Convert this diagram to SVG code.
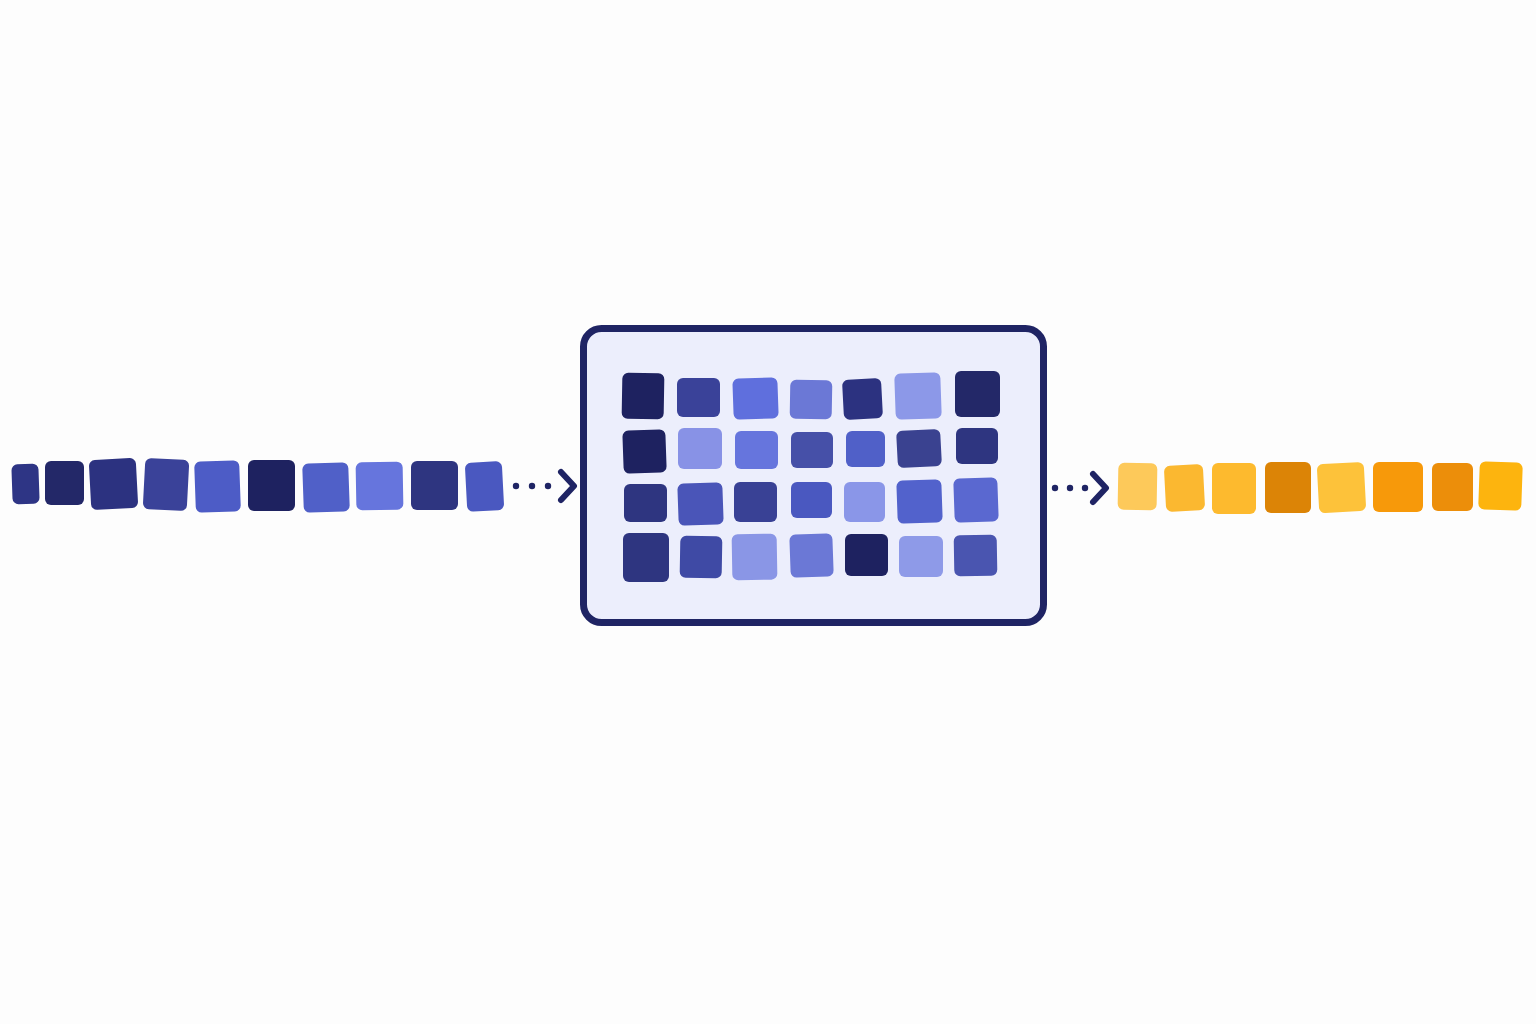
<svg xmlns="http://www.w3.org/2000/svg" width="1536" height="1024" viewBox="0 0 1536 1024">
<style>
.sq{rx:6;ry:6}
.dot{fill:#1F2464}
.chev{fill:none;stroke:#1F2464;stroke-width:6;stroke-linecap:round;stroke-linejoin:round}
.frame{fill:#ECEEFC;stroke:#1F2464;stroke-width:7}
</style>
<rect width="1536" height="1024" fill="#FDFDFD"/>
<g id="input-sequence">
<rect class="sq" x="12" y="464" width="27" height="40" fill="#2E3585" transform="rotate(-2 25 484)"/>
<rect class="sq" x="45" y="461" width="39" height="44" fill="#232868"/>
<rect class="sq" x="90" y="459" width="47" height="50" fill="#2C3280" transform="rotate(-3 113 484)"/>
<rect class="sq" x="144" y="459" width="44" height="51" fill="#3A4299" transform="rotate(3 166 485)"/>
<rect class="sq" x="195" y="461" width="45" height="51" fill="#4D5CC6" transform="rotate(-2 217 486)"/>
<rect class="sq" x="248" y="460" width="47" height="51" fill="#1E2260"/>
<rect class="sq" x="303" y="463" width="46" height="49" fill="#5060C8" transform="rotate(-2 326 487)"/>
<rect class="sq" x="356" y="462" width="47" height="48" fill="#6675DD" transform="rotate(-1 379 486)"/>
<rect class="sq" x="411" y="461" width="47" height="49" fill="#2E3580"/>
<rect class="sq" x="466" y="462" width="37" height="49" fill="#4A58C0" transform="rotate(-3 484 486)"/>
</g>
<g id="model-grid">
<rect class="frame" x="583.5" y="328.5" width="460" height="294" rx="18"/>
<rect class="sq" x="622" y="373" width="42" height="46" fill="#1E2260" transform="rotate(1 643 396)"/>
<rect class="sq" x="677" y="378" width="43" height="39" fill="#3A4299"/>
<rect class="sq" x="733" y="378" width="45" height="41" fill="#5F6FDD" transform="rotate(-2 755 398)"/>
<rect class="sq" x="790" y="380" width="42" height="39" fill="#6B78D6" transform="rotate(1 811 399)"/>
<rect class="sq" x="843" y="379" width="39" height="40" fill="#2C3280" transform="rotate(-3 862 399)"/>
<rect class="sq" x="895" y="373" width="46" height="46" fill="#8C98E8" transform="rotate(-2 918 396)"/>
<rect class="sq" x="955" y="371" width="45" height="46" fill="#232868"/>

<rect class="sq" x="623" y="430" width="43" height="43" fill="#1E2260" transform="rotate(-2 645 451)"/>
<rect class="sq" x="678" y="428" width="44" height="41" fill="#8892E6"/>
<rect class="sq" x="735" y="431" width="43" height="38" fill="#6675DD"/>
<rect class="sq" x="791" y="432" width="42" height="36" fill="#4650A8"/>
<rect class="sq" x="846" y="431" width="39" height="36" fill="#5060C8"/>
<rect class="sq" x="897" y="430" width="44" height="37" fill="#3A4290" transform="rotate(-3 919 448)"/>
<rect class="sq" x="956" y="428" width="42" height="36" fill="#2E3580"/>

<rect class="sq" x="624" y="484" width="43" height="38" fill="#2E3580"/>
<rect class="sq" x="678" y="483" width="45" height="42" fill="#4A55B8" transform="rotate(-2 700 504)"/>
<rect class="sq" x="734" y="482" width="43" height="40" fill="#394195"/>
<rect class="sq" x="791" y="482" width="41" height="36" fill="#4A58C0"/>
<rect class="sq" x="844" y="482" width="41" height="40" fill="#8A96E8"/>
<rect class="sq" x="897" y="480" width="45" height="43" fill="#5262CC" transform="rotate(-2 919 501)"/>
<rect class="sq" x="954" y="478" width="44" height="44" fill="#5A68D0" transform="rotate(-2 976 500)"/>

<rect class="sq" x="623" y="533" width="46" height="49" fill="#2E3580"/>
<rect class="sq" x="680" y="536" width="42" height="42" fill="#3F4AA5" transform="rotate(1 701 557)"/>
<rect class="sq" x="732" y="534" width="45" height="46" fill="#8A96E6" transform="rotate(-1 754 557)"/>
<rect class="sq" x="790" y="534" width="43" height="43" fill="#6B78D6" transform="rotate(-2 811 555)"/>
<rect class="sq" x="845" y="534" width="43" height="42" fill="#1E2260"/>
<rect class="sq" x="899" y="536" width="44" height="41" fill="#8E9AE8"/>
<rect class="sq" x="954" y="535" width="43" height="41" fill="#4A55B0" transform="rotate(-1 975 555)"/>
</g>
<g id="output-sequence">
<rect class="sq" x="1118" y="463" width="39" height="47" fill="#FDC95A" transform="rotate(1 1137 486)"/>
<rect class="sq" x="1165" y="465" width="39" height="46" fill="#FBB830" transform="rotate(-3 1184 488)"/>
<rect class="sq" x="1212" y="463" width="44" height="51" fill="#FDBA2E"/>
<rect class="sq" x="1265" y="462" width="46" height="51" fill="#DC8406"/>
<rect class="sq" x="1318" y="463" width="47" height="49" fill="#FDC23A" transform="rotate(-3 1342 488)"/>
<rect class="sq" x="1373" y="462" width="50" height="50" fill="#F7990A"/>
<rect class="sq" x="1432" y="463" width="41" height="48" fill="#EC8E0A"/>
<rect class="sq" x="1479" y="462" width="43" height="48" fill="#FDB40E" transform="rotate(2 1500 486)"/>
</g>
<g id="connectors">
<circle class="dot" cx="516" cy="486" r="3.2"/>
<circle class="dot" cx="532" cy="486" r="3.2"/>
<circle class="dot" cx="548" cy="486" r="3.2"/>
<path class="chev" d="M561 472 L574 486 L561 500"/>
<circle class="dot" cx="1055" cy="488" r="3.2"/>
<circle class="dot" cx="1070" cy="488" r="3.2"/>
<circle class="dot" cx="1085" cy="488" r="3.2"/>
<path class="chev" d="M1093 474 L1106 488 L1093 502"/>
</g>
</svg>
